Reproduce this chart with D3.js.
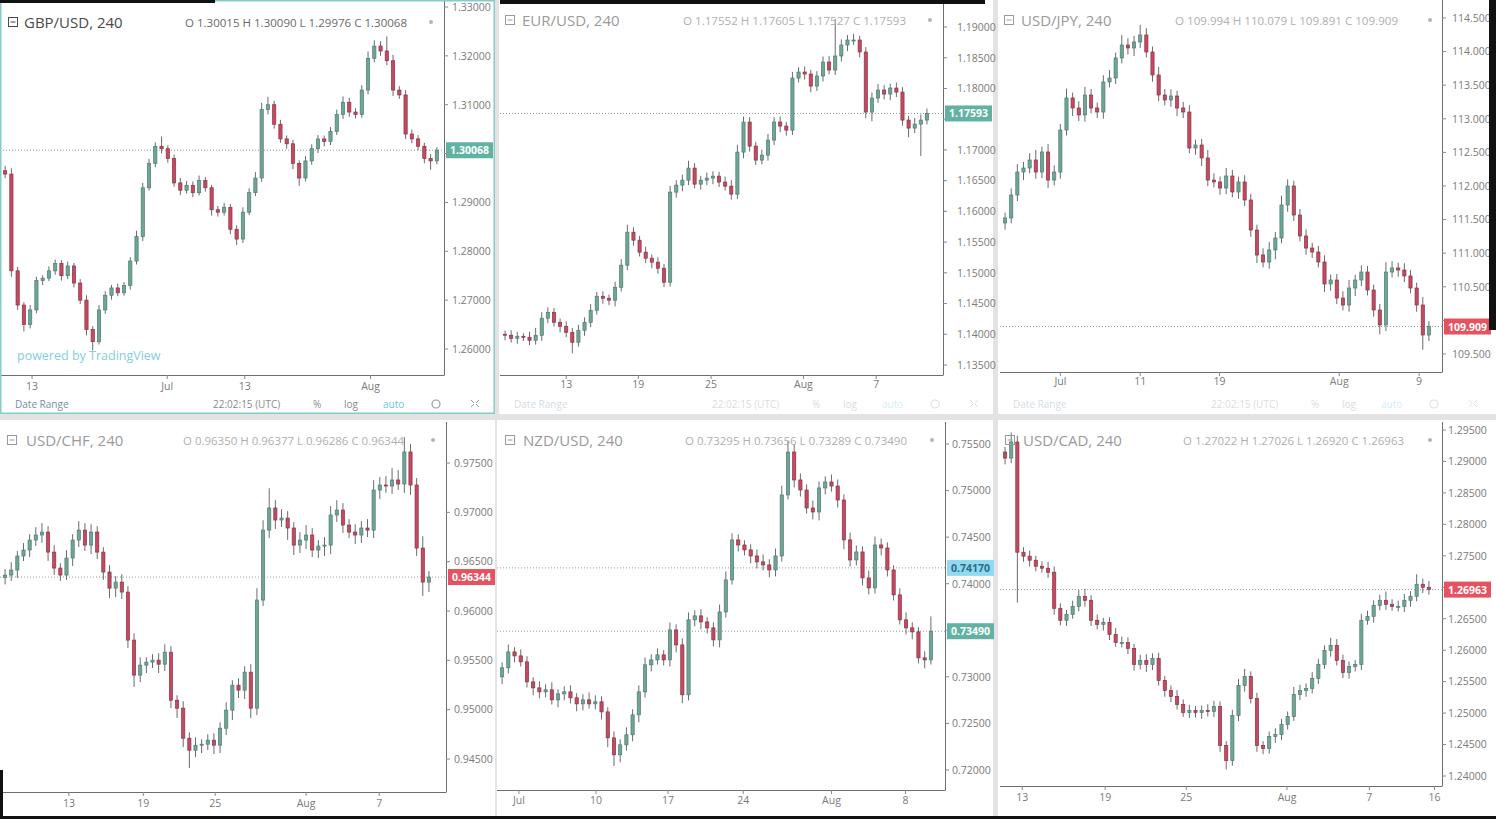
<!DOCTYPE html>
<html><head><meta charset="utf-8">
<script src="https://cdn.jsdelivr.net/npm/d3@7"></script>
<style>body{margin:0;background:#e4e4e4;overflow:hidden}svg{display:block}</style>
</head><body><svg id="c" width="1496" height="819"></svg>
<script>
// ---------------- DATA ----------------
const titles = ["GBP/USD, 240","EUR/USD, 240","USD/JPY, 240","USD/CHF, 240","NZD/USD, 240","USD/CAD, 240"];
const ohlcTexts = [
  "O 1.30015 H 1.30090 L 1.29976 C 1.30068",
  "O 1.17552 H 1.17605 L 1.17527 C 1.17593",
  "O 109.994 H 110.079 L 109.891 C 109.909",
  "O 0.96350 H 0.96377 L 0.96286 C 0.96344",
  "O 0.73295 H 0.73656 L 0.73289 C 0.73490",
  "O 1.27022 H 1.27026 L 1.26920 C 1.26963"];

const gbpOpen0 = 1.2965;
const gbpClose = [1.2958,1.2760,1.2690,1.2650,1.2680,1.2740,1.2745,1.2760,1.2775,1.2750,
 1.2770,1.2735,1.2700,1.2640,1.2615,1.2680,1.2710,1.2725,1.2715,1.2730,
 1.2780,1.2830,1.2930,1.2980,1.3015,1.3010,1.2990,1.2940,1.2925,1.2935,
 1.2920,1.2945,1.2930,1.2885,1.2880,1.2890,1.2845,1.2825,1.2880,1.2920,
 1.2950,1.3090,1.3100,1.3060,1.3030,1.3020,1.2980,1.2950,1.2985,1.3010,
 1.3030,1.3025,1.3045,1.3080,1.3105,1.3085,1.3080,1.3130,1.3195,1.3220,
 1.3210,1.3190,1.3130,1.3120,1.3040,1.3030,1.3015,1.2990,1.2985,1.3007];
const gbpUp = [10,12,8,6,10,8,6,9,8,7, 9,6,8,10,7,10,8,6,9,7, 8,12,10,9,8,20,7,8,10,9,
 8,10,7,6,8,9,7,8,10,9, 12,14,16,8,9,7,8,6,10,9, 8,7,9,10,12,9,8,10,14,12, 10,30,12,8,10,9,8,7,9,6];
const gbpDn = [8,12,10,14,8,7,9,6,8,10, 7,9,8,12,18,6,8,9,7,6, 8,7,9,6,8,10,9,8,10,7,
 9,6,8,12,9,7,10,12,8,6, 7,8,10,9,8,10,12,16,7,8, 9,10,8,7,9,10,8,7,9,8, 10,9,12,8,10,9,8,10,18,7];

const eurOpen0 = 1.1400;
const eurClose = [1.13984,1.13935,1.13967,1.13951,1.13902,1.13984,1.14261,1.14358,1.14195,1.1413,
 1.14033,1.1387,1.14065,1.14195,1.14391,1.14619,1.14586,1.14554,1.14765,1.15124,
 1.15661,1.15531,1.15336,1.15238,1.15173,1.15075,1.14847,1.16313,1.16427,1.16508,
 1.16704,1.16443,1.16508,1.16541,1.16573,1.16476,1.1641,1.1628,1.16964,1.17453,
 1.17062,1.16834,1.16915,1.1716,1.17453,1.17388,1.17322,1.18169,1.18267,1.18235,
 1.18039,1.18202,1.1843,1.183,1.18528,1.18707,1.18788,1.18788,1.18593,1.17616,
 1.17844,1.17974,1.17909,1.18007,1.17941,1.17485,1.17355,1.1742,1.17485,1.17593];
const eurUp = [6,8,7,5,9,12,10,8,7,6, 8,7,9,8,10,7,8,6,9,10, 12,8,7,9,6,8,7,10,8,9,
 12,8,7,9,8,7,9,10,12,9, 8,7,9,10,8,9,7,10,8,9, 7,8,9,10,60,9,8,10,7,8, 9,10,8,7,9,8,7,10,9,8];
const eurDn = [8,7,9,6,8,7,9,8,7,10, 8,18,7,9,8,7,9,8,10,7, 8,9,7,8,10,9,8,7,9,10,
 8,7,9,8,10,8,7,9,8,10, 9,8,7,9,8,10,9,8,7,9, 10,8,9,7,8,9,10,8,9,10, 15,8,9,10,8,9,15,8,52,7];

const jpyOpen0 = 111.45;
const jpyClose = [111.524,111.866,112.208,112.268,112.387,112.208,112.506,112.089,112.208,112.833,
 113.31,113.161,113.057,113.354,113.161,113.101,113.548,113.607,113.905,114.098,
 114.054,114.143,114.247,113.994,113.652,113.354,113.28,113.339,113.161,113.101,
 112.565,112.61,112.417,112.089,112.06,111.97,112.149,111.911,112.06,111.792,
 111.345,110.973,110.869,111.048,111.226,111.717,112.0,111.568,111.256,111.077,
 111.018,110.869,110.542,110.601,110.333,110.229,110.482,110.601,110.72,110.452,
 110.155,109.932,110.72,110.78,110.75,110.661,110.482,110.229,109.783,109.909];
const jpyUp = [8,10,12,9,10,15,8,12,10,9, 14,8,10,12,9,8,10,12,8,15, 10,9,15,10,8,12,9,10,8,9,
 10,8,9,12,10,8,12,9,8,10, 9,8,10,12,9,14,10,8,9,10, 8,9,10,8,9,10,12,8,10,9, 8,9,15,10,8,10,9,8,12,8];
const jpyDn = [10,8,9,12,8,10,9,12,8,10, 8,12,9,10,8,9,10,8,9,8, 10,12,9,8,10,9,8,10,12,9,
 8,10,12,9,8,10,9,8,10,9, 10,12,8,10,14,8,10,9,8,10, 9,8,12,10,9,8,10,12,9,8, 10,14,9,8,10,9,8,10,22,9];

const chfOpen0 = 0.9634;
const chfClose = [0.96364,0.96415,0.96557,0.96618,0.96719,0.9677,0.968,0.96597,0.96435,0.96364,
 0.96537,0.96719,0.9682,0.96668,0.968,0.96597,0.96395,0.96232,0.96293,0.96192,
 0.95705,0.9535,0.95451,0.95482,0.95502,0.95461,0.95583,0.95096,0.95015,0.94711,
 0.94589,0.9464,0.9465,0.94691,0.9464,0.94812,0.94995,0.95248,0.95198,0.9538,
 0.95015,0.96111,0.9682,0.97044,0.96922,0.96942,0.96841,0.96668,0.96719,0.9677,
 0.96618,0.96658,0.96668,0.96973,0.97023,0.96871,0.968,0.9677,0.96841,0.9682,
 0.97226,0.97277,0.97267,0.97328,0.97287,0.97612,0.97277,0.96638,0.96293,0.96344];
const chfUp = [6,8,5,7,6,8,9,6,7,5, 8,6,9,7,8,6,5,7,6,8, 6,7,8,5,6,7,8,6,5,7,
 6,8,5,6,7,6,8,5,7,6, 8,12,10,20,8,9,7,6,8,10, 7,6,8,9,10,7,6,8,7,9, 10,8,9,12,10,15,8,7,12,6];
const chfDn = [7,6,8,5,7,6,8,9,7,6, 5,8,7,6,9,7,8,10,9,7, 8,12,7,8,6,9,7,8,10,9,
 18,7,8,6,9,8,7,10,8,9, 10,7,6,8,9,7,12,10,8,9, 7,8,10,9,7,8,6,9,8,7, 8,9,7,8,6,9,10,8,14,10];

const nzdOpen0 = 0.7300;
const nzdClose = [0.73097,0.73268,0.73225,0.73161,0.72946,0.72882,0.72839,0.72861,0.72753,0.72818,
 0.72839,0.72775,0.7271,0.72753,0.7271,0.72732,0.72624,0.72345,0.72163,0.7227,
 0.72378,0.72592,0.72839,0.73129,0.73182,0.73236,0.73182,0.73504,0.73343,0.72807,
 0.73612,0.73655,0.7359,0.73526,0.73397,0.73697,0.74041,0.7447,0.74416,0.74363,
 0.74298,0.74234,0.74202,0.74148,0.74298,0.74953,0.75414,0.75114,0.75006,0.74813,
 0.7477,0.75028,0.75092,0.75049,0.74899,0.7447,0.74255,0.74341,0.74062,0.73955,
 0.74416,0.74384,0.74148,0.7388,0.73612,0.73526,0.73483,0.73204,0.73182,0.7349];
const nzdUp = [6,8,5,7,6,5,7,6,8,5, 6,7,5,6,8,7,6,5,7,6, 8,6,7,8,6,7,5,8,6,7,
 8,6,7,5,6,8,9,7,6,5, 6,7,8,6,8,10,12,8,7,6, 8,7,6,8,7,6,8,7,6,8, 9,7,6,5,7,8,6,5,7,16];
const nzdDn = [8,6,7,5,6,8,7,6,5,8, 7,6,8,7,5,6,8,10,12,8, 6,7,8,6,7,5,6,7,8,9,
 6,7,8,6,7,8,6,5,7,6, 8,7,6,8,7,6,5,8,7,6, 8,9,7,6,8,10,7,6,8,7, 6,8,7,6,5,7,8,6,9,5];

const cadOpen0 = 1.2915;
const cadClose = [1.29054,1.29309,1.27557,1.27494,1.2743,1.27334,1.27303,1.27239,1.26666,1.26475,
 1.2657,1.26697,1.26857,1.26793,1.26475,1.26411,1.26443,1.26252,1.26124,1.26124,
 1.26029,1.25774,1.25838,1.25774,1.25869,1.25519,1.2536,1.25264,1.25137,1.2501,
 1.25041,1.2501,1.25041,1.25025,1.25105,1.24484,1.24245,1.24962,1.2544,1.25583,
 1.25232,1.24484,1.24436,1.24627,1.24659,1.24818,1.24946,1.25296,1.2536,1.25392,
 1.25551,1.25774,1.25997,1.26076,1.25838,1.25646,1.25742,1.25774,1.26475,1.26538,
 1.26713,1.26793,1.26729,1.26697,1.26697,1.26793,1.26857,1.27048,1.27,1.26963];
const cadUp = [8,15,10,8,9,7,8,10,9,8, 7,9,10,12,8,9,7,8,10,9, 8,7,9,10,8,9,7,8,10,8,
 9,7,8,10,9,8,7,9,10,12, 8,9,7,8,10,9,8,12,9,8, 10,9,8,12,10,9,8,7,10,9, 8,9,14,8,9,10,8,16,9,10];
const cadDn = [10,8,80,9,10,8,7,9,10,8, 9,7,8,10,9,8,10,9,7,8, 9,10,8,12,9,8,10,9,8,7,
 9,8,10,8,9,10,14,8,9,10, 8,10,9,8,10,9,8,7,9,10, 8,9,7,10,8,9,10,8,9,7, 10,8,9,7,8,9,10,8,9,8];

// y-axis tick values
const gbpYTicks = [1.26,1.27,1.28,1.29,1.30,1.31,1.32,1.33];
const eurYTicks = [1.135,1.14,1.145,1.15,1.155,1.16,1.165,1.17,1.175,1.18,1.185,1.19];
const jpyYTicks = [109.5,110,110.5,111,111.5,112,112.5,113,113.5,114,114.5];
const chfYTicks = [0.945,0.95,0.955,0.96,0.965,0.97,0.975];
const nzdYTicks = [0.72,0.725,0.73,0.735,0.74,0.745,0.75,0.755];
const cadYTicks = [1.24,1.245,1.25,1.255,1.26,1.265,1.27,1.275,1.28,1.285,1.29,1.295];

// x-axis tick labels and the candle index they sit on
const gbpXLabels = ["13","Jul","13","Aug"];          const gbpXAt = [4.3,25.9,38.3,58.4];
const eurXLabels = ["13","19","25","Aug","7"];      const eurXAt = [10.0,21.8,33.7,48.8,60.7];
const jpyXLabels = ["Jul","11","19","Aug","9"];     const jpyXAt = [9.0,22.0,34.9,54.4,67.4];
const chfXLabels = ["13","19","25","Aug","7"];      const chfXAt = [10.4,22.5,34.2,49.0,60.9];
const nzdXLabels = ["Jul","10","17","24","Aug","8"]; const nzdXAt = [2.7,15.1,26.7,38.8,53.0,64.9];
const cadXLabels = ["13","19","25","Aug","7","16"];  const cadXAt = [2.8,16.3,29.5,45.9,59.3,69.9];

// price marker lines
const gbpMarks = [1.30068];
const eurMarks = [1.17593];
const jpyMarks = [109.909];
const chfMarks = [0.96344];
const nzdMarks = [0.74170, 0.73490];
const cadMarks = [1.26963];

// ---------------- STYLE / LAYOUT ----------------
const TEAL = "#62b2a4", RED = "#e4535f", LBLUE = "#8fdaf0";
const FONT = "'Open Sans', 'DejaVu Sans', sans-serif";
const panels = [
 {title:0, open0:gbpOpen0, close:gbpClose, up:gbpUp, dn:gbpDn, pip:1e-4, dec:5,
  box:[0,0,495,414], plot:[0,0,444,375], cr:[2,440], yDom:[1.26,1.33], yRng:[349,7], yT:gbpYTicks, lblOff:8,
  xL:gbpXLabels, xAt:gbpXAt, xLabY:390, marks:gbpMarks, markStyle:[[TEAL,"#fff"]],
  hdrY:28, iconX:8, titleX:24, ohlcX:[185,407], dotX:431, active:true, toolbar:1},
 {title:1, open0:eurOpen0, close:eurClose, up:eurUp, dn:eurDn, pip:1e-4, dec:5,
  box:[499,0,494,414], plot:[500,0,943,375], cr:[502,930], yDom:[1.135,1.19], yRng:[365,27], yT:eurYTicks, lblOff:14,
  xL:eurXLabels, xAt:eurXAt, xLabY:388, marks:eurMarks, markStyle:[[TEAL,"#fff"]],
  hdrY:26, iconX:505, titleX:522, ohlcX:[683,906], dotX:930, toolbar:2},
 {title:2, open0:jpyOpen0, close:jpyClose, up:jpyUp, dn:jpyDn, pip:1e-2, dec:3,
  box:[998,0,498,414], plot:[1000,0,1442,372], cr:[1002,1432], yDom:[109.5,114.5], yRng:[354,18], yT:jpyYTicks, lblOff:10,
  xL:jpyXLabels, xAt:jpyXAt, xLabY:385, marks:jpyMarks, markStyle:[[RED,"#fff"]],
  hdrY:26, iconX:1004, titleX:1021, ohlcX:[1175,1398], dotX:1430, toolbar:2},
 {title:3, open0:chfOpen0, close:chfClose, up:chfUp, dn:chfDn, pip:1e-4, dec:5,
  box:[0,420,495,399], plot:[0,422,446,792], cr:[2,432], yDom:[0.945,0.975], yRng:[759,463], yT:chfYTicks, lblOff:8,
  xL:chfXLabels, xAt:chfXAt, xLabY:807, marks:chfMarks, markStyle:[[RED,"#fff"]],
  hdrY:446, iconX:7, titleX:26, ohlcX:[183,404], dotX:433},
 {title:4, open0:nzdOpen0, close:nzdClose, up:nzdUp, dn:nzdDn, pip:1e-4, dec:5,
  box:[497,420,496,399], plot:[497,422,945,790], cr:[499,934], yDom:[0.72,0.755], yRng:[770,444], yT:nzdYTicks, lblOff:7,
  xL:nzdXLabels, xAt:nzdXAt, xLabY:804, marks:nzdMarks, markStyle:[[LBLUE,"#2d6a86"],[TEAL,"#fff"]],
  hdrY:446, iconX:505, titleX:523, ohlcX:[685,907], dotX:932},
 {title:5, open0:cadOpen0, close:cadClose, up:cadUp, dn:cadDn, pip:1e-4, dec:5,
  box:[998,420,498,399], plot:[1000,422,1442,786], cr:[1002,1432], yDom:[1.24,1.295], yRng:[776,430], yT:cadYTicks, lblOff:6,
  xL:cadXLabels, xAt:cadXAt, xLabY:801, marks:cadMarks, markStyle:[[RED,"#fff"]],
  hdrY:446, iconX:1005, titleX:1023, ohlcX:[1183,1404], dotX:1430}
];

const svg = d3.select("#c");
svg.append("rect").attr("width",1496).attr("height",819).attr("fill","#e3e3e3");

panels.forEach((p, k) => {
  const g = svg.append("g");
  const [bx,by,bw,bh] = p.box;
  const [px0,py0,px1,py1] = p.plot;
  g.append("rect").attr("x",bx).attr("y",by).attr("width",bw).attr("height",bh).attr("fill","#fff");

  const y = d3.scaleLinear().domain(p.yDom).range(p.yRng);
  const N = p.close.length;
  const x = d3.scaleLinear().domain([0,N]).range(p.cr);
  const step = (p.cr[1]-p.cr[0])/N;
  const bodyW = Math.max(2, step*0.52);

  const clipId = "clip"+k;
  g.append("clipPath").attr("id",clipId).append("rect")
    .attr("x",px0).attr("y",py0).attr("width",px1-px0).attr("height",py1-py0);
  const plot = g.append("g").attr("clip-path",`url(#${clipId})`);

  // marker dotted lines
  p.marks.forEach(v => {
    plot.append("line").attr("x1",px0).attr("x2",px1).attr("y1",y(v)).attr("y2",y(v))
      .attr("stroke","#9a9a9a").attr("stroke-width",1).attr("stroke-dasharray","1,2");
  });

  // candles
  const candles = p.close.map((c,i) => {
    const o = i===0 ? p.open0 : p.close[i-1];
    const h = Math.max(o,c) + p.up[i]*p.pip;
    const l = Math.min(o,c) - p.dn[i]*p.pip;
    return {i,o,h,l,c};
  });
  const cg = plot.selectAll("g.cdl").data(candles).join("g");
  cg.append("line")
    .attr("x1",d=>x(d.i+0.5)).attr("x2",d=>x(d.i+0.5))
    .attr("y1",d=>y(d.h)).attr("y2",d=>y(d.l))
    .attr("stroke","#6b6b6b").attr("stroke-width",1);
  cg.append("rect")
    .attr("x",d=>x(d.i+0.5)-bodyW/2).attr("width",bodyW)
    .attr("y",d=>y(Math.max(d.o,d.c)))
    .attr("height",d=>Math.max(1, Math.abs(y(d.o)-y(d.c))))
    .attr("fill",d=>d.c>=d.o ? "#6ea596" : "#c24a62")
    .attr("stroke",d=>d.c>=d.o ? "#4f7d71" : "#8d3244").attr("stroke-width",0.7);

  // plot frame
  g.append("line").attr("x1",px1+0.5).attr("x2",px1+0.5).attr("y1",py0).attr("y2",py1)
    .attr("stroke","#6e6e6e").attr("stroke-width",1);
  g.append("line").attr("x1",px0).attr("x2",px1+0.5).attr("y1",py1+0.5).attr("y2",py1+0.5)
    .attr("stroke","#6e6e6e").attr("stroke-width",1);

  // y axis (labels hidden where a price marker covers them, as in the reference)
  p.yT.forEach(v => {
    const yy = y(v);
    g.append("line").attr("x1",px1).attr("x2",px1+4).attr("y1",yy).attr("y2",yy).attr("stroke","#888");
    const covered = p.marks.some(m => Math.abs(y(m)-yy) < 13);
    if (!covered)
      g.append("text").attr("x",px1+p.lblOff).attr("y",yy+3.8).text(v.toFixed(p.dec))
        .attr("font-family",FONT).attr("font-size",10.5).attr("fill","#7a7a7a");
  });
  // x axis
  p.xL.forEach((lab,j) => {
    const xx = x(p.xAt[j]+0.5);
    g.append("line").attr("x1",xx).attr("x2",xx).attr("y1",py1).attr("y2",py1+4).attr("stroke","#888");
    g.append("text").attr("x",xx).attr("y",p.xLabY).attr("text-anchor","middle").text(lab)
      .attr("font-family",FONT).attr("font-size",10.5).attr("fill","#7a7a7a");
  });

  // price labels
  p.marks.forEach((v,j) => {
    const [bg,fg] = p.markStyle[j];
    const yy = y(v);
    g.append("rect").attr("x",px1+2).attr("y",yy-8).attr("width",47).attr("height",16).attr("fill",bg);
    g.append("text").attr("x",px1+25.5).attr("y",yy+4).attr("text-anchor","middle").text(v.toFixed(p.dec))
      .attr("font-family",FONT).attr("font-size",10.5).attr("font-weight","bold").attr("fill",fg);
  });

  // header
  const tcol = p.active ? "#4a4a4a" : "#9a9a9a";
  g.append("rect").attr("x",p.iconX+0.5).attr("y",p.hdrY-10.5).attr("width",9).attr("height",9)
    .attr("fill","none").attr("stroke",tcol).attr("stroke-width",1);
  g.append("line").attr("x1",p.iconX+2.5).attr("x2",p.iconX+7.5).attr("y1",p.hdrY-6).attr("y2",p.hdrY-6)
    .attr("stroke",tcol);
  g.append("text").attr("x",p.titleX).attr("y",p.hdrY).text(titles[p.title])
    .attr("font-family",FONT).attr("font-size",15).attr("fill",tcol);
  g.append("text").attr("x",p.ohlcX[0]).attr("y",p.hdrY-1).text(ohlcTexts[p.title])
    .attr("textLength",p.ohlcX[1]-p.ohlcX[0]).attr("lengthAdjust","spacingAndGlyphs")
    .attr("font-family",FONT).attr("font-size",10.5).attr("fill",p.active ? "#6a6a6a" : "#b0b0b0");
  g.append("circle").attr("cx",p.dotX).attr("cy",p.hdrY-6).attr("r",2).attr("fill","#a9b9b9");

  // bottom toolbar (top row only)
  if (p.toolbar) {
    const tb = g.append("g").attr("opacity", p.toolbar===1 ? 1 : 0.3);
    const ty = 408;
    tb.append("text").attr("x",bx+15).attr("y",ty).text("Date Range")
      .attr("font-family",FONT).attr("font-size",10).attr("fill","#6f8fa5");
    tb.append("text").attr("x",bx+213).attr("y",ty).text("22:02:15 (UTC)")
      .attr("font-family",FONT).attr("font-size",10).attr("fill","#8a8a8a");
    tb.append("text").attr("x",bx+313).attr("y",ty).text("%")
      .attr("font-family",FONT).attr("font-size",10).attr("fill","#8a8a8a");
    tb.append("text").attr("x",bx+344).attr("y",ty).text("log")
      .attr("font-family",FONT).attr("font-size",10).attr("fill","#8a8a8a");
    tb.append("text").attr("x",bx+383).attr("y",ty).text("auto")
      .attr("font-family",FONT).attr("font-size",10).attr("fill","#6cc3e6");
    tb.append("circle").attr("cx",bx+436).attr("cy",ty-4).attr("r",4).attr("fill","none").attr("stroke","#999").attr("stroke-width",1.2);
    tb.append("path").attr("d",`M${bx+471},${ty-1}l3,-3M${bx+479},${ty-8}l-3,3M${bx+471},${ty-8}l3,3M${bx+479},${ty-1}l-3,-3`)
      .attr("stroke","#999").attr("fill","none");
  }
  if (p.active) {
    g.append("text").attr("x",17).attr("y",360).text("powered by TradingView")
      .attr("font-family",FONT).attr("font-size",12.5).attr("fill","#86cde3");
    g.append("rect").attr("x",bx+0.75).attr("y",by+0.75).attr("width",bw-1.5).attr("height",bh-1.5)
      .attr("fill","none").attr("stroke","#86cbc5").attr("stroke-width",1.5);
  }
});

// scan edge artefacts of the photographed sheet
const edges = [[0,0,215,3],[500,0,485,4],[1489,0,7,330],[0,816,1496,3],[0,770,3,49]];
svg.selectAll("rect.edge").data(edges).join("rect").attr("class","edge")
  .attr("x",d=>d[0]).attr("y",d=>d[1]).attr("width",d=>d[2]).attr("height",d=>d[3]).attr("fill","#111");
</script></body></html>
